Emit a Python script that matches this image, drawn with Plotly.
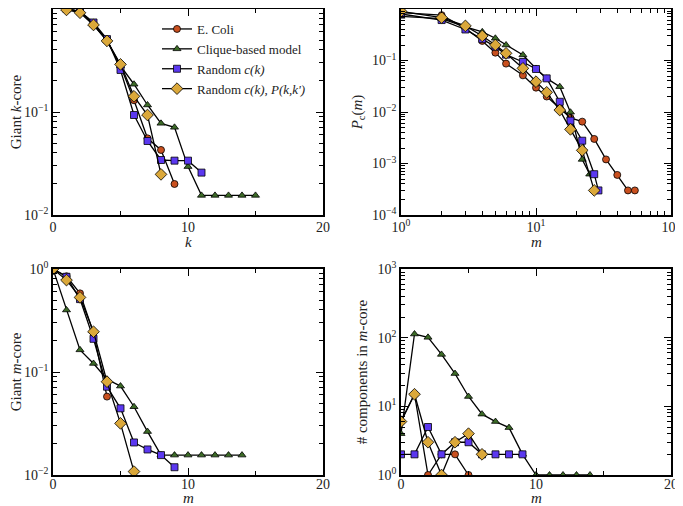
import plotly.graph_objects as go

# panel 1: giant k-core vs k
k_vals = [1, 2, 3, 4, 5, 6, 7, 8, 9, 10, 11, 12, 13, 14, 15]
k_ecoli = [1.0, 0.95, 0.72, 0.5, 0.28, 0.13, 0.0555, 0.0428, 0.02]
k_clique = [1.0, 0.95, 0.7, 0.49, 0.28, 0.186, 0.117, 0.0776, 0.071, 0.0295,
            0.0155, 0.0155, 0.0155, 0.0155, 0.0155]
k_rand = [1.0, 0.95, 0.74, 0.51, 0.256, 0.0935, 0.0523, 0.0342, 0.0337, 0.0337, 0.0258]
k_randp = [0.98, 0.92, 0.70, 0.49, 0.29, 0.142, 0.0935, 0.0248]

# panel 2: P_c(m)
pm_ecoli_x = [1, 2, 3, 4, 5, 6, 8, 10, 12, 15, 18, 22, 27, 33, 40, 48, 54]
pm_ecoli = [0.85, 0.76, 0.42, 0.24, 0.142, 0.087, 0.0515, 0.0297, 0.02, 0.012,
            0.0077, 0.0065, 0.003, 0.0012, 0.0006, 0.0003, 0.0003]
pm_clique_x = [1, 2, 3, 4, 5, 6, 8, 10, 12, 15, 18, 22, 25]
pm_clique = [0.72, 0.65, 0.45, 0.36, 0.27, 0.2, 0.128, 0.07, 0.045, 0.031,
             0.0099, 0.0012, 0.00062]
pm_rand_x = [1, 2, 3, 4, 5, 6, 8, 10, 12, 15, 18, 22, 27, 29]
pm_rand = [0.8, 0.61, 0.40, 0.26, 0.186, 0.13, 0.0935, 0.0684, 0.045, 0.0158,
           0.0068, 0.00277, 0.00062, 0.0003]
pm_randp_x = [1, 2, 3, 4, 5, 6, 8, 10, 12, 15, 18, 22, 27]
pm_randp = [0.9, 0.68, 0.47, 0.30, 0.2, 0.138, 0.0705, 0.0388, 0.0241, 0.0109,
            0.0046, 0.0018, 0.0003]

# panel 3: giant m-core vs m
m_vals = [0, 1, 2, 3, 4, 5, 6, 7, 8, 9, 10, 11, 12, 13, 14]
mc_ecoli = [1.0, 0.85, 0.58, 0.24, 0.0577]
mc_clique = [1.0, 0.4, 0.164, 0.121, 0.085, 0.073, 0.046, 0.0264,
             0.0156, 0.0156, 0.0156, 0.0156, 0.0156, 0.0156, 0.0156]
mc_rand = [1.0, 0.84, 0.51, 0.21, 0.072, 0.0444, 0.0207, 0.0177, 0.0156, 0.0119]
mc_randp = [1.0, 0.78, 0.53, 0.246, 0.0805, 0.0317, 0.0108]

# panel 4: number of components in m-core
nc_ecoli = [6, 15, 1, 2, 2, 1]
nc_clique = [4, 113, 101, 57, 30, 13.9, 7.7, 6.0, 4.9, 2, 1, 1, 1, 1, 1]
nc_rand = [2, 2, 5, 2, 3, 3, 2, 2, 2, 2]
nc_randp = [6, 15, 3, 1, 3, 4, 2]

names = ["E. Coli", "Clique-based model", "Random <i>c(k)</i>",
         "Random <i>c(k)</i>, <i>P(k,k')</i>"]
colors = ["#c9501f", "#3c6b27", "#5b38f0", "#dba83a"]
symbols = ["circle", "triangle-up", "square", "diamond"]
sizes = [7, 7, 7, 9]

FONT = "Liberation Serif"
fig = go.Figure()


def add_series(xs, ys, i, xa, ya, legend=False):
    fig.add_trace(go.Scatter(
        x=xs[:len(ys)], y=ys, mode="lines+markers", name=names[i],
        xaxis=xa, yaxis=ya, showlegend=legend,
        line=dict(color="black", width=1.3),
        marker=dict(symbol=symbols[i], size=sizes[i], color=colors[i],
                    line=dict(color="black", width=0.8))))


for i, ys in enumerate([k_ecoli, k_clique, k_rand, k_randp]):
    add_series(k_vals, ys, i, "x", "y", legend=True)
for i, (xs, ys) in enumerate([(pm_ecoli_x, pm_ecoli), (pm_clique_x, pm_clique),
                              (pm_rand_x, pm_rand), (pm_randp_x, pm_randp)]):
    add_series(xs, ys, i, "x2", "y2")
for i, ys in enumerate([mc_ecoli, mc_clique, mc_rand, mc_randp]):
    add_series(m_vals, ys, i, "x3", "y3")
for i, ys in enumerate([nc_ecoli, nc_clique, nc_rand, nc_randp]):
    add_series(m_vals, ys, i, "x4", "y4")


def sup(e):
    return "10<sup>%s</sup>" % str(e).replace("-", "\u2212")


def log_axis(lo, hi):
    vals = [10.0 ** e for e in range(lo, hi + 1)]
    minors = [d * 10.0 ** e for e in range(lo, hi) for d in range(2, 10)]
    return dict(type="log", range=[lo, hi], tickmode="array", tickvals=vals,
                ticktext=[sup(e) for e in range(lo, hi + 1)],
                minor=dict(tickmode="array", tickvals=minors, ticks="inside",
                           ticklen=4, tickcolor="black", showgrid=False))


def lin_axis():
    return dict(type="linear", range=[0, 20], tickmode="linear", tick0=0, dtick=10,
                minor=dict(tickmode="linear", tick0=0, dtick=5, ticks="inside",
                           ticklen=4, tickcolor="black", showgrid=False))


common = dict(showline=True, mirror="allticks", linecolor="black", linewidth=1.5,
              ticks="inside", ticklen=7, tickcolor="black", showgrid=False,
              zeroline=False, automargin=False,
              tickfont=dict(family=FONT, size=14, color="#222"))


def axis(base, domain, anchor, title=None, shift=0):
    d = dict(common)
    d.update(base)
    d.update(domain=domain, anchor=anchor)
    if shift:
        d["ticklabelstandoff"] = shift
    if title:
        d["title"] = dict(text=title, standoff=6,
                          font=dict(family=FONT, size=15, color="#222"))
    return d


# the page body has an 8px margin, so the figure is drawn 8px in from the corner
OFF = 8
W, H = 683 - OFF, 506 - OFF
ML, MR, MT, MB = 45, 4, 1, 23
iw, ih = W - ML - MR, H - MT - MB


def xdom(a, b):
    return [(a - OFF - ML) / iw, (b - OFF - ML) / iw]


def ydom(top, bot):
    return [(H - MB - (bot - OFF)) / ih, (H - MB - (top - OFF)) / ih]


def py(v):
    return (H - MB - (v - OFF)) / ih


xl, xr = xdom(53, 323), xdom(401, 671)
yt, yb = ydom(9, 215), ydom(269, 475)

x_titles = [("<i>k</i>", xl, 242), ("<i>m</i>", xr, 242),
            ("<i>m</i>", xl, 498), ("<i>m</i>", xr, 498)]
annotations = [dict(text=t, xref="paper", yref="paper", x=(d[0] + d[1]) / 2, y=py(yy),
                    xanchor="center", yanchor="middle", showarrow=False,
                    font=dict(family=FONT, size=15, color="#222"))
               for t, d, yy in x_titles]

fig.update_layout(
    width=W, height=H,
    margin=dict(l=ML, r=MR, t=MT, b=MB),
    paper_bgcolor="white", plot_bgcolor="white",
    font=dict(family=FONT, color="#222"),
    xaxis=axis(lin_axis(), xl, "y", shift=-2),
    yaxis=axis(log_axis(-2, 0), yt, "x", "Giant <i>k</i>-core"),
    xaxis2=axis(log_axis(0, 2), xr, "y2", shift=-2),
    yaxis2=axis(log_axis(-4, 0), yt, "x2", "<i>P</i><sub>c</sub>(<i>m</i>)"),
    xaxis3=axis(lin_axis(), xl, "y3", shift=-5),
    yaxis3=axis(log_axis(-2, 0), yb, "x3", "Giant <i>m</i>-core"),
    xaxis4=axis(lin_axis(), xr, "y4", shift=-5),
    yaxis4=axis(log_axis(0, 3), yb, "x4", "# components in <i>m</i>-core"),
    annotations=annotations,
    legend=dict(x=(157 - OFF - ML) / iw, y=py(14),
                xanchor="left", yanchor="top",
                bgcolor="rgba(0,0,0,0)", tracegroupgap=0,
                font=dict(family=FONT, size=13, color="#222")),
)

fig.write_html("out.html")
